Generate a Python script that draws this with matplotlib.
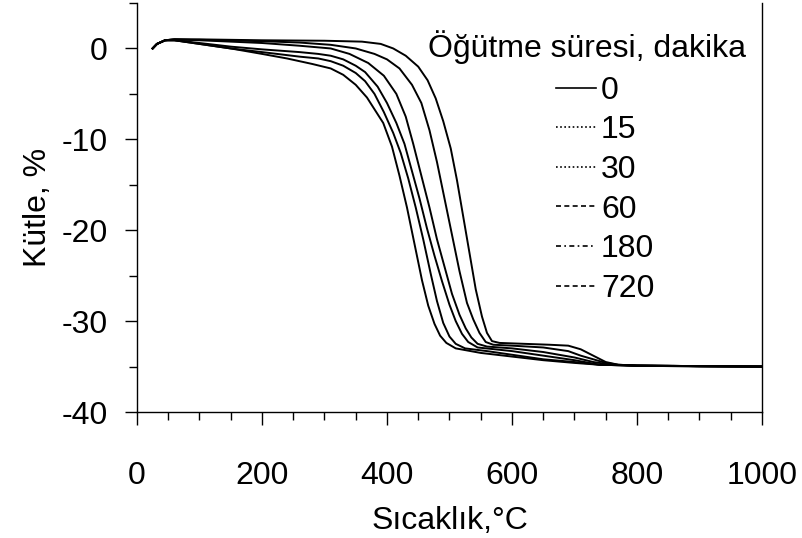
import matplotlib
matplotlib.use("Agg")
import matplotlib.pyplot as plt
from matplotlib.lines import Line2D
from matplotlib.ticker import MultipleLocator

plt.rcParams["font.family"] = ["Liberation Sans", "DejaVu Sans"]
plt.rcParams["axes.unicode_minus"] = False

# milling time (min) -> TGA curve (temperature in C, mass change in %)
labels = ["0", "15", "30", "60", "180", "720"]
legend_styles = ["-", (0, (1, 1.5)), (0, (1, 1.5)), (0, (3, 2)), (0, (3, 2, 1, 2)), (0, (3, 2))]

t0 = [25, 32, 45, 60, 100, 200, 300, 360, 390, 410, 430, 450, 465, 478, 490, 502, 512, 522,
      532, 542, 552, 560, 568, 580, 620, 660, 690, 710, 730, 750, 770, 800, 900, 1000]
m0 = [0, 0.5, 0.9, 1.0, 1.0, 0.9, 0.85, 0.75, 0.5, 0.0, -0.8, -2.0, -3.5, -5.5, -8.0, -11.0, -14.5, -18.5,
      -22.5, -26.5, -29.5, -31.3, -32.2, -32.4, -32.5, -32.6, -32.7, -33.1, -33.8, -34.5, -34.8, -34.9, -35.0, -35.0]

t15 = [25, 32, 45, 60, 100, 200, 260, 310, 350, 380, 400, 420, 440, 455, 468, 480, 492, 504,
       516, 528, 538, 548, 558, 570, 600, 650, 690, 710, 730, 750, 770, 800, 1000]
m15 = [0, 0.5, 0.9, 1.0, 0.95, 0.8, 0.65, 0.4, 0.0, -0.6, -1.2, -2.2, -4.0, -6.0, -9.0, -12.5, -16.5, -20.5,
       -24.5, -28.0, -29.8, -31.3, -32.3, -32.6, -32.7, -32.9, -33.3, -33.8, -34.2, -34.6, -34.8, -34.9, -35.0]

t30 = [25, 32, 45, 60, 100, 150, 200, 260, 310, 340, 370, 395, 415, 430, 442, 455, 468, 480,
       492, 504, 516, 526, 535, 545, 560, 600, 650, 700, 730, 760, 800, 1000]
m30 = [0, 0.5, 0.9, 1.0, 0.9, 0.75, 0.6, 0.3, 0.0, -0.6, -1.6, -3.0, -5.0, -7.5, -10.5, -14.0, -17.5, -21.0,
       -24.0, -27.0, -29.3, -30.8, -31.8, -32.5, -32.8, -33.0, -33.4, -34.0, -34.5, -34.8, -34.9, -35.0]

t60 = [25, 32, 45, 60, 100, 150, 200, 260, 290, 310, 330, 350, 365, 385, 400, 415, 428, 440, 452, 464,
       476, 488, 500, 510, 520, 530, 545, 600, 650, 700, 740, 800, 1000]
m60 = [0, 0.5, 0.9, 0.9, 0.6, 0.2, -0.1, -0.4, -0.6, -0.8, -1.2, -1.9, -2.6, -4.2, -6.0, -8.2, -10.5, -13.5, -16.5, -19.8,
       -22.8, -25.6, -28.2, -30.0, -31.4, -32.3, -32.9, -33.3, -33.8, -34.3, -34.8, -34.9, -35.0]

t180 = [25, 32, 45, 60, 100, 150, 200, 260, 290, 310, 330, 350, 365, 380, 395, 410, 422, 434, 446, 458,
        470, 480, 490, 500, 510, 525, 560, 600, 650, 700, 740, 800, 1000]
m180 = [0, 0.5, 0.9, 0.9, 0.5, 0.0, -0.4, -0.9, -1.1, -1.4, -1.9, -2.7, -3.6, -5.0, -7.0, -9.3, -11.5, -14.3, -17.5, -21.0,
        -24.8, -27.8, -30.2, -31.7, -32.5, -33.0, -33.3, -33.7, -34.2, -34.5, -34.8, -34.9, -35.0]

t720 = [25, 32, 45, 60, 100, 150, 200, 240, 280, 310, 330, 350, 368, 394, 408, 420, 432, 444, 456, 466,
        476, 485, 495, 510, 550, 600, 650, 700, 740, 800, 1000]
m720 = [0, 0.5, 0.9, 0.9, 0.5, 0.0, -0.6, -1.1, -1.7, -2.2, -2.9, -4.0, -5.4, -8.2, -10.8, -14.0, -17.5, -21.5, -25.5, -28.3,
        -30.3, -31.6, -32.4, -33.0, -33.5, -33.9, -34.3, -34.6, -34.8, -34.9, -35.0]

temps = [t0, t15, t30, t60, t180, t720]
masses = [m0, m15, m30, m60, m180, m720]

fig = plt.figure(figsize=(8.02, 5.38), dpi=100)
ax = fig.add_axes([0.1708, 0.2342, 0.7793, 0.7602])

# the raw data is so dense that every curve looks solid in the plot
for t, m in zip(temps, masses):
    ax.plot(t, m, color="black", lw=1.4)

ax.set_xlim(0, 1000)
ax.set_ylim(-40, 5)
ax.xaxis.set_major_locator(MultipleLocator(200))
ax.xaxis.set_minor_locator(MultipleLocator(50))
ax.yaxis.set_major_locator(MultipleLocator(10))
ax.yaxis.set_minor_locator(MultipleLocator(5))
ax.tick_params(which="major", direction="out", length=9, width=1, labelsize=23)
ax.tick_params(which="minor", direction="out", length=6, width=1)
ax.tick_params(axis="x", which="major", pad=26)
ax.tick_params(axis="y", which="major", pad=12)
ax.spines["top"].set_visible(False)
for s in ["left", "right", "bottom"]:
    ax.spines[s].set_linewidth(1)

ax.set_xlabel("Sıcaklık,°C", fontsize=23, labelpad=11)
ax.set_ylabel("Kütle, %", fontsize=23, labelpad=6)

handles = [Line2D([], [], color="black", lw=1.2, ls=ls) for ls in legend_styles]
ax.text(0.465, 0.892, "Öğütme süresi, dakika", transform=ax.transAxes, fontsize=23, va="center", ha="left")
ax.legend(handles, labels, loc="upper left", bbox_to_anchor=(0.671, 0.822), frameon=False,
          fontsize=23, handlelength=1.25, handletextpad=0.15, labelspacing=0.3,
          borderpad=0, borderaxespad=0)

fig.savefig("out.png", dpi=100)
